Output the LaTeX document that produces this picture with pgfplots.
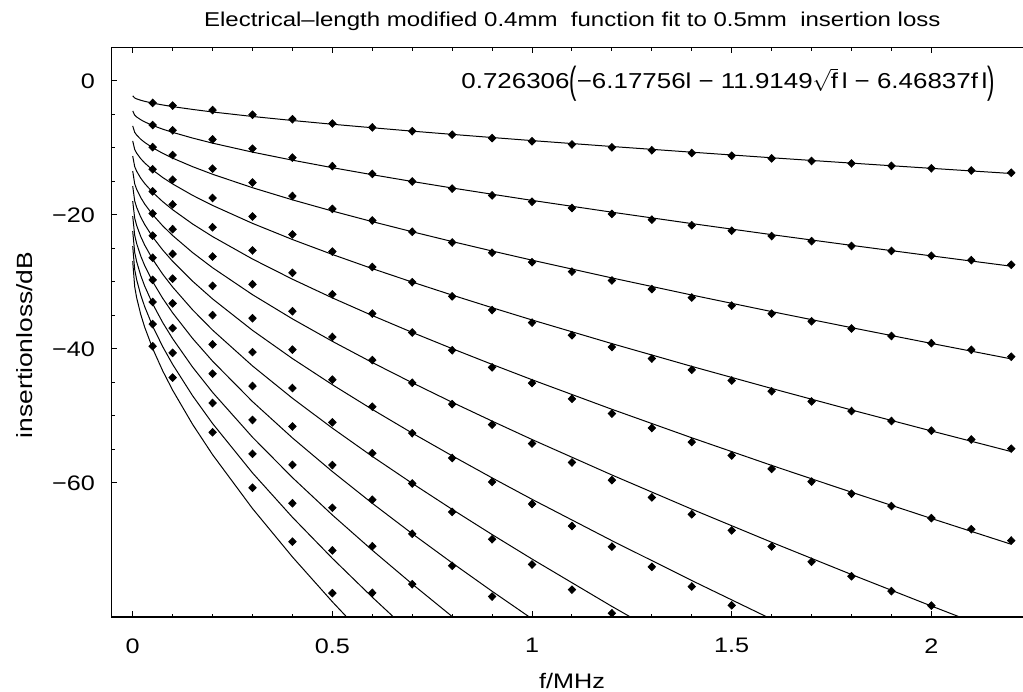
\documentclass[border=0pt]{standalone}
\usepackage{fontspec}
\setmainfont{Liberation Sans}[FakeStretch=1.2]
\usepackage{graphicx}
\usepackage{pgfplots}
\usepackage{pgfplotstable}
\pgfplotsset{compat=1.18}

% fitted curves, columns k = 2*l (l = 0.5 ... 6)
\pgfplotstableread{
f     c1     c2     c3     c4     c5     c6     c7     c8     c9     c10    c11    c12
0     -2.24  -4.49  -6.73  -8.97  -11.22 -13.46 -15.70 -17.95 -20.19 -22.43 -24.68 -26.92
0.005 -2.56  -5.12  -7.68  -10.24 -12.81 -15.37 -17.93 -20.49 -23.05 -25.61 -28.17 -30.73
0.01  -2.70  -5.40  -8.10  -10.80 -13.50 -16.20 -18.90 -21.60 -24.30 -27.00 -29.70 -32.40
0.02  -2.90  -5.80  -8.71  -11.61 -14.51 -17.41 -20.32 -23.22 -26.12 -29.02 -31.93 -34.83
0.03  -3.06  -6.13  -9.19  -12.25 -15.32 -18.38 -21.44 -24.51 -27.57 -30.63 -33.70 -36.76
0.05  -3.33  -6.66  -9.99  -13.31 -16.64 -19.97 -23.30 -26.63 -29.96 -33.28 -36.61 -39.94
0.075 -3.60  -7.21  -10.81 -14.42 -18.02 -21.63 -25.23 -28.84 -32.44 -36.05 -39.65 -43.26
0.1   -3.85  -7.69  -11.54 -15.39 -19.23 -23.08 -26.93 -30.77 -34.62 -38.47 -42.31 -46.16
0.15  -4.27  -8.54  -12.81 -17.09 -21.36 -25.63 -29.90 -34.17 -38.44 -42.72 -46.99 -51.26
0.2   -4.65  -9.30  -13.94 -18.59 -23.24 -27.89 -32.54 -37.19 -41.83 -46.48 -51.13 -55.78
0.3   -5.32  -10.64 -15.95 -21.27 -26.59 -31.91 -37.23 -42.54 -47.86 -53.18 -58.50 -63.82
0.4   -5.92  -11.84 -17.76 -23.68 -29.60 -35.52 -41.44 -47.36 -53.28 -59.20 -65.12 -71.04
0.5   -6.48  -12.96 -19.43 -25.91 -32.39 -38.87 -45.34 -51.82 -58.30 -64.78 -71.25 -77.73
0.6   -7.00  -14.01 -21.01 -28.02 -35.02 -42.03 -49.03 -56.04 -63.04 -70.04 -77.05 -84.05
0.7   -7.51  -15.02 -22.52 -30.03 -37.54 -45.05 -52.56 -60.06 -67.57 -75.08 -82.59 nan
0.8   -7.99  -15.99 -23.98 -31.97 -39.96 -47.96 -55.95 -63.94 -71.93 -79.93 nan    nan
0.9   -8.46  -16.92 -25.39 -33.85 -42.31 -50.77 -59.24 -67.70 -76.16 -84.62 nan    nan
1.0   -8.92  -17.84 -26.76 -35.68 -44.60 -53.52 -62.44 -71.35 -80.27 nan    nan    nan
1.2   -9.80  -19.60 -29.41 -39.21 -49.01 -58.81 -68.61 -78.42 nan    nan    nan    nan
1.4   -10.65 -21.30 -31.96 -42.61 -53.26 -63.91 -74.56 -85.21 nan    nan    nan    nan
1.6   -11.48 -22.95 -34.43 -45.90 -57.38 -68.85 -80.33 nan    nan    nan    nan    nan
1.8   -12.28 -24.55 -36.83 -49.11 -61.38 -73.66 nan    nan    nan    nan    nan    nan
2.0   -13.06 -26.12 -39.18 -52.24 -65.30 -78.36 nan    nan    nan    nan    nan    nan
2.2   -13.83 -27.66 -41.49 -55.32 -69.15 -82.97 nan    nan    nan    nan    nan    nan
}\curves

% measured 0.5mm insertion loss (dots)
\pgfplotstableread{
f    d1     d2     d3     d4     d5     d6     d7     d8     d9     d10    d11    d12
0.05 -3.30  -6.60  -9.90  -13.20 -16.50 -19.80 -23.10 -26.40 -29.70 -33.00 -36.30 -39.60
0.1  -3.69  -7.38  -11.07 -14.76 -18.45 -22.14 -25.83 -29.52 -33.21 -36.90 -40.59 -44.28
0.2  -4.37  -8.74  -13.11 -17.48 -21.85 -26.22 -30.59 -34.96 -39.33 -43.70 -48.07 -52.44
0.3  -5.06  -10.12 -15.18 -20.24 -25.30 -30.36 -35.42 -40.48 -45.54 -50.60 -55.66 -60.72
0.4  -5.73  -11.46 -17.19 -22.92 -28.65 -34.38 -40.11 -45.84 -51.57 -57.30 -63.03 -68.76
0.5  -6.37  -12.74 -19.11 -25.48 -31.85 -38.22 -44.59 -50.96 -57.33 -63.70 -70.07 -76.44
0.6  -6.95  -13.89 -20.84 -27.78 -34.73 -41.67 -48.62 -55.56 -62.51 -69.45 -76.40 nan
0.7  -7.51  -15.02 -22.53 -30.04 -37.55 -45.06 -52.57 -60.08 -67.59 -75.10 nan    nan
0.8  -8.04  -16.08 -24.12 -32.16 -40.20 -48.24 -56.28 -64.32 -72.36 nan    nan    nan
0.9  -8.55  -17.10 -25.65 -34.20 -42.75 -51.30 -59.85 -68.40 -76.95 nan    nan    nan
1.0  -9.02  -18.04 -27.06 -36.08 -45.10 -54.12 -63.14 -72.16 nan    nan    nan    nan
1.1  -9.49  -18.98 -28.47 -37.96 -47.45 -56.94 -66.43 -75.92 nan    nan    nan    nan
1.2  -9.93  -19.86 -29.79 -39.72 -49.65 -59.58 -69.51 -79.44 nan    nan    nan    nan
1.3  -10.36 -20.72 -31.08 -41.44 -51.80 -62.16 -72.52 nan    nan    nan    nan    nan
1.4  -10.78 -21.56 -32.34 -43.12 -53.90 -64.68 -75.46 nan    nan    nan    nan    nan
1.5  -11.18 -22.36 -33.54 -44.72 -55.90 -67.08 -78.26 nan    nan    nan    nan    nan
1.6  -11.58 -23.16 -34.74 -46.32 -57.90 -69.48 nan    nan    nan    nan    nan    nan
1.7  -11.96 -23.92 -35.88 -47.84 -59.80 -71.76 nan    nan    nan    nan    nan    nan
1.8  -12.32 -24.64 -36.96 -49.28 -61.60 -73.92 nan    nan    nan    nan    nan    nan
1.9  -12.69 -25.38 -38.07 -50.76 -63.45 -76.14 nan    nan    nan    nan    nan    nan
2.0  -13.05 -26.10 -39.15 -52.20 -65.25 -78.30 nan    nan    nan    nan    nan    nan
2.1  -13.38 -26.76 -40.14 -53.52 -66.90 nan    nan    nan    nan    nan    nan    nan
2.2  -13.72 -27.44 -41.16 -54.88 -68.60 nan    nan    nan    nan    nan    nan    nan
}\dots

\begin{document}
\begin{tikzpicture}
\useasboundingbox (-55.65pt,-37pt) rectangle (455.85pt,308.5pt);
\begin{axis}[
  at={(0,0)}, anchor=south west,
  scale only axis,
  width=460.65pt, height=284.85pt,
  xmin=-0.0536, xmax=2.2535,
  ymin=-80, ymax=5,
  axis line style={line width=0.6pt, black},
  xtick={0,0.5,1,1.5,2},
  xticklabels={0,0.5,1,1.5,2},
  minor x tick num=4,
  ytick={-60,-40,-20,0},
  yticklabels={−60,−40,−20,0},
  minor y tick num=3,
  tick align=inside,
  major tick length=2.8pt,
  minor tick length=1.6pt,
  every tick/.style={black, line width=0.5pt},
  tick label style={font=\fontsize{10.5}{12}\selectfont},
  xticklabel style={anchor=north, inner sep=0pt, yshift=-10.5pt},
  yticklabel style={anchor=east, inner sep=0pt, xshift=-8pt},
  unbounded coords=discard,
  clip=true,
]
\pgfplotsinvokeforeach{1,...,12}{
  \addplot[black, line width=0.5pt, no markers] table[x=f, y=c#1] {\curves};
}
\pgfplotsinvokeforeach{1,...,12}{
  \addplot[only marks, mark=diamond*, mark size=1.9pt, mark options={black, fill=black, xscale=1.3}] table[x=f, y=d#1] {\dots};
}
\end{axis}
% title
\node[anchor=base, inner sep=0pt, font=\fontsize{10}{12}\selectfont] at (230.5pt,295.15pt)
  {Electrical–length modified 0.4mm\ \ function fit to 0.5mm\ \ insertion loss};
% fit formula
\node[anchor=base west, inner sep=0pt, font=\fontsize{10.8}{13}\selectfont] at (174.85pt,264pt)
  {0.726306\raisebox{-2.2pt}{\scalebox{0.85}[1.75]{(}}−6.17756l − 11.9149$\sqrt{\hbox{f}}$\,l − 6.46837f\,l\raisebox{-2.2pt}{\scalebox{0.85}[1.75]{)}}};
% axis labels
\node[anchor=base, inner sep=0pt, font=\fontsize{10.5}{12}\selectfont] at (230.35pt,-35.5pt) {f/MHz};
\node[rotate=90, anchor=center, inner sep=0pt, font=\fontsize{11}{12}\selectfont] at (-43.15pt,136pt) {insertionloss/dB};
\end{tikzpicture}
\end{document}
